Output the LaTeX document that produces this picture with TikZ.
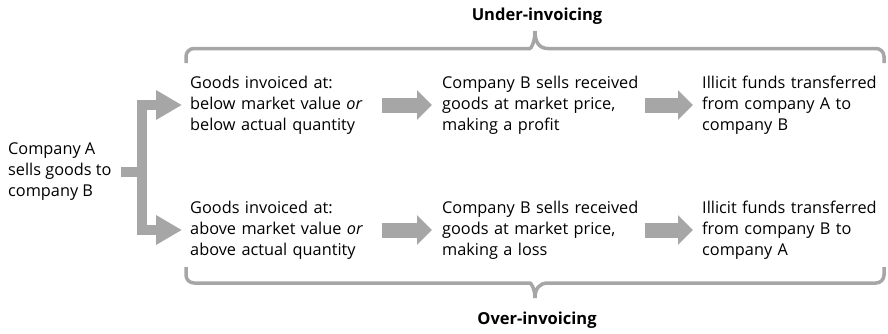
\documentclass[tikz,border=0pt]{standalone}
\usepackage{fontspec}
\setmainfont{Open Sans}
\usetikzlibrary{arrows.meta}

\definecolor{flowgray}{RGB}{166,166,166}

\tikzset{
  every box/.style={anchor=west, align=left, inner sep=0pt,
    font=\fontsize{16.3}{21}\selectfont},
  every label/.style={font=\fontsize{16.5}{21}\selectfont\bfseries},
  block arrow/.style={flowgray, line width=15pt,
    -{Triangle[length=15pt, width=29pt]}},
  fork arrow/.style={flowgray, line width=10pt, line join=miter},
  bracket/.style={flowgray, line width=3.5pt}
}

\begin{document}
\begin{tikzpicture}[x=1pt, y=-1pt]

\useasboundingbox (0,0) rectangle (888,333);

\node [every box] (seller) at (8,172) {Company A\\sells goods to\\company B};

\foreach \x/\w/\t [count=\i] in {
    190/182/{Goods invoiced at:\\below market value \emph{or}\\below actual quantity},
    442/202/{Company B sells received\\goods at market price,\\making a profit},
    702/184/{Illicit funds transferred\\from company A to\\company B}}
  \node [every box, text width=\w pt] (under-\i) at (\x,105) {\t};

\foreach \x/\w/\t [count=\i] in {
    190/182/{Goods invoiced at:\\above market value \emph{or}\\above actual quantity},
    442/202/{Company B sells received\\goods at market price,\\making a loss},
    702/184/{Illicit funds transferred\\from company B to\\company A}}
  \node [every box, text width=\w pt] (over-\i) at (\x,230) {\t};

% fork from company A
\coordinate (fork) at (142,172);
\draw [fork arrow, shorten <=9pt] (seller) -- (fork);
\foreach \r in {under, over}
  \draw [fork arrow, -{Triangle[length=26pt, width=28pt]}, shorten >=8pt]
    (fork) |- (\r-1);

\foreach \r in {under, over} {
  \draw [block arrow, shorten <=10pt, shorten >=10pt] (\r-1) -- (\r-2);
  \draw [block arrow, shorten <=1pt, shorten >=9pt] (\r-2) -- (\r-3);
}

% brackets
\draw [bracket] (186,63) [rounded corners=8pt] |- (522,48.5) [sharp corners]
  .. controls (531,48.5) and (535,42) .. (535,31)
  .. controls (535,42) and (539,48.5) .. (548,48.5)
  [rounded corners=8pt] -| (884,63);
\draw [bracket] (186,267) [rounded corners=8pt] |- (522,283) [sharp corners]
  .. controls (531,283) and (535,289) .. (535,298)
  .. controls (535,289) and (539,283) .. (548,283)
  [rounded corners=8pt] -| (884,267);

\node [every label] (under-label) at (537,16) {Under-invoicing};
\node [every label] (over-label) at (537,320) {Over-invoicing};

\end{tikzpicture}
\end{document}
